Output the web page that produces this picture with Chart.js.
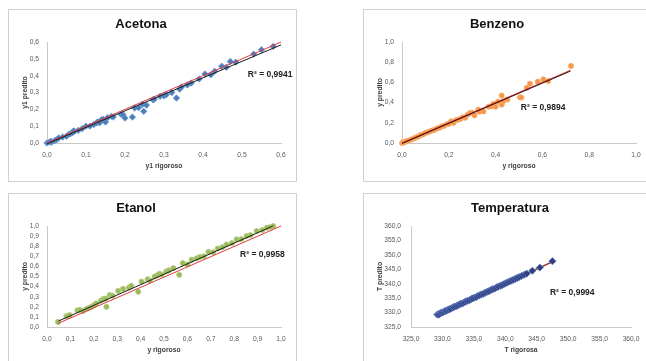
<!DOCTYPE html>
<html>
<head>
<meta charset="utf-8">
<title>Rigoroso x predito</title>
<script src="https://cdn.jsdelivr.net/npm/chart.js@4.4.0/dist/chart.umd.min.js"></script>
<style>
  body { margin: 0; background: #fff; width: 646px; height: 361px; overflow: hidden; position: relative; }
  .panel { position: absolute; border: 1px solid #d0d0d0; width: 287px; height: 171px; background: #fff; }
  .panel canvas { display: block; }
</style>
</head>
<body>
<div class="panel" style="left:8px;top:9px"><canvas id="acetona" width="287" height="171"></canvas></div>
<div class="panel" style="left:363px;top:9px"><canvas id="benzeno" width="287" height="171"></canvas></div>
<div class="panel" style="left:8px;top:193px"><canvas id="etanol" width="287" height="171"></canvas></div>
<div class="panel" style="left:363px;top:193px"><canvas id="temperatura" width="287" height="171"></canvas></div>

<script>
'use strict';

/**
 * data
 */

const acetonaX = [0.0, 0.005, 0.01, 0.012, 0.02, 0.025, 0.03, 0.04, 0.05, 0.055, 0.06, 0.065, 0.067, 0.07, 0.08,
  0.09, 0.1, 0.11, 0.12, 0.127, 0.13, 0.135, 0.14, 0.145, 0.15, 0.155, 0.165, 0.17, 0.19, 0.195, 0.2, 0.219,
  0.225, 0.235, 0.245, 0.248, 0.255, 0.272, 0.275, 0.29, 0.3, 0.306, 0.32, 0.332, 0.34, 0.345, 0.36, 0.37,
  0.39, 0.405, 0.42, 0.43, 0.448, 0.46, 0.47, 0.484, 0.53, 0.55, 0.58];
const acetonaY = [0.0, 0.005, 0.01, 0.005, 0.015, 0.02, 0.03, 0.035, 0.04, 0.05, 0.055, 0.06, 0.07, 0.07, 0.075,
  0.085, 0.1, 0.1, 0.11, 0.119, 0.125, 0.12, 0.139, 0.14, 0.125, 0.15, 0.158, 0.155, 0.17, 0.168, 0.148, 0.154,
  0.208, 0.21, 0.23, 0.188, 0.225, 0.257, 0.26, 0.277, 0.28, 0.287, 0.3, 0.267, 0.32, 0.333, 0.345, 0.356,
  0.38, 0.41, 0.405, 0.426, 0.456, 0.45, 0.484, 0.48, 0.528, 0.554, 0.574];
const acetonaIdeal = [[0, 0], [0.6, 0.6]];
const acetonaTrend = [[0, -0.005], [0.6, 0.583]];

const benzenoX = [0.0, 0.005, 0.01, 0.015, 0.02, 0.03, 0.04, 0.05, 0.06, 0.07, 0.08, 0.09, 0.1, 0.11, 0.12, 0.13,
  0.14, 0.15, 0.16, 0.17, 0.18, 0.19, 0.2, 0.21, 0.22, 0.23, 0.24, 0.25, 0.26, 0.27, 0.28, 0.29, 0.3, 0.31,
  0.326, 0.33, 0.348, 0.37, 0.383, 0.39, 0.4, 0.41, 0.426, 0.426, 0.433, 0.45, 0.504, 0.51, 0.533, 0.547,
  0.58, 0.604, 0.625, 0.722];
const benzenoY = [0.0, 0.01, 0.005, 0.015, 0.02, 0.025, 0.035, 0.045, 0.055, 0.065, 0.08, 0.085, 0.1, 0.105,
  0.115, 0.125, 0.13, 0.145, 0.15, 0.165, 0.17, 0.185, 0.19, 0.215, 0.2, 0.225, 0.23, 0.24, 0.255, 0.25, 0.28,
  0.297, 0.3, 0.273, 0.33, 0.31, 0.313, 0.36, 0.363, 0.387, 0.36, 0.41, 0.47, 0.38, 0.413, 0.43, 0.453, 0.45,
  0.547, 0.587, 0.607, 0.63, 0.613, 0.763];
const benzenoIdeal = [[0, 0], [0.72, 0.72]];
const benzenoTrend = [[0, -0.005], [0.72, 0.712]];

const etanolX = [0.047, 0.083, 0.09, 0.097, 0.13, 0.14, 0.155, 0.17, 0.18, 0.19, 0.2, 0.21, 0.23, 0.24, 0.25,
  0.254, 0.268, 0.28, 0.304, 0.325, 0.35, 0.36, 0.39, 0.404, 0.43, 0.44, 0.46, 0.47, 0.48, 0.49, 0.51, 0.52,
  0.54, 0.565, 0.58, 0.6, 0.618, 0.64, 0.653, 0.67, 0.69, 0.71, 0.73, 0.75, 0.767, 0.79, 0.81, 0.83, 0.853,
  0.87, 0.896, 0.92, 0.94, 0.955, 0.967];
const etanolY = [0.05, 0.107, 0.11, 0.117, 0.165, 0.17, 0.16, 0.18, 0.19, 0.2, 0.215, 0.233, 0.26, 0.277, 0.28,
  0.2, 0.317, 0.31, 0.357, 0.377, 0.39, 0.407, 0.35, 0.45, 0.473, 0.46, 0.5, 0.51, 0.527, 0.52, 0.55, 0.56,
  0.583, 0.517, 0.633, 0.62, 0.667, 0.68, 0.693, 0.7, 0.743, 0.74, 0.777, 0.79, 0.817, 0.83, 0.867, 0.87, 0.9,
  0.91, 0.95, 0.96, 0.983, 0.99, 1.0];
const etanolIdeal = [[0.047, 0.035], [1.0, 1.0]];
const etanolTrend = [[0.05, 0.06], [0.965, 1.0]];

const temperaturaX = [329.2, 329.4, 329.5, 329.7, 329.9, 330.1, 330.3, 330.5, 330.7, 330.9, 331.1, 331.3, 331.6,
  331.8, 332.0, 332.3, 332.5, 332.8, 333.0, 333.3, 333.5, 333.8, 334.0, 334.3, 334.6, 334.8, 335.1, 335.4,
  335.6, 335.9, 336.2, 336.5, 336.8, 337.1, 337.4, 337.7, 338.0, 338.3, 338.6, 338.9, 339.2, 339.5, 339.8,
  340.1, 340.4, 340.7, 341.0, 341.3, 341.6, 341.9, 342.2, 342.6, 343.0, 343.4, 344.3, 345.5, 347.5];
const temperaturaY = [329.3, 329.5, 329.4, 329.8, 330.0, 330.1, 330.4, 330.6, 330.7, 331.0, 331.2, 331.3, 331.7,
  331.9, 332.1, 332.3, 332.6, 332.9, 333.1, 333.3, 333.6, 333.9, 334.1, 334.3, 334.7, 334.9, 335.2, 335.4,
  335.7, 336.0, 336.3, 336.5, 336.9, 337.2, 337.4, 337.8, 338.1, 338.3, 338.7, 339.0, 339.3, 339.5, 339.9,
  340.2, 340.5, 340.8, 341.1, 341.4, 341.7, 342.0, 342.3, 342.7, 343.1, 343.5, 344.5, 345.6, 347.8];
const temperaturaIdeal = [[329.3, 329.3], [347.6, 347.6]];
const temperaturaTrend = [[329.3, 329.4], [347.6, 347.8]];

/**
 * helpers
 */

const FONT = '"Liberation Sans", Arial, sans-serif';

function zip(xs, ys) {
  return xs.map(function (x, i) { return { x: x, y: ys[i] }; });
}

function pairs(list) {
  return list.map(function (p) { return { x: p[0], y: p[1] }; });
}

function comma(v) {
  return v.toFixed(1).replace('.', ',');
}

// titles, axis titles and the R² note
const panelText = {
  id: 'panelText',
  afterDraw(chart, args, opts) {
    const ctx = chart.ctx;
    const a = chart.chartArea;
    ctx.save();
    ctx.textAlign = 'center';
    ctx.textBaseline = 'middle';
    ctx.fillStyle = '#111';
    ctx.font = 'bold 13px ' + FONT;
    ctx.fillText(opts.title, opts.titleX, 14);

    ctx.fillStyle = '#404040';
    ctx.font = 'bold 6.8px ' + FONT;
    ctx.fillText(opts.xTitle, (a.left + a.right) / 2, 156.5);
    ctx.save();
    ctx.translate(16, (a.top + a.bottom) / 2);
    ctx.rotate(-Math.PI / 2);
    ctx.fillText(opts.yTitle, 0, 0);
    ctx.restore();

    ctx.fillStyle = '#222';
    ctx.textAlign = 'left';
    ctx.font = 'bold 8.5px ' + FONT;
    const px = chart.scales.x.getPixelForValue(opts.r2[0]);
    const py = chart.scales.y.getPixelForValue(opts.r2[1]);
    ctx.fillText(opts.r2Text, px, py);
    ctx.restore();
  }
};

function axis(min, max, step, isX, yWidth, pad) {
  return {
    type: 'linear',
    min: min,
    max: max,
    grid: { display: false, drawTicks: false },
    border: { display: true, color: '#c8c8c8', width: 1 },
    ticks: {
      stepSize: step,
      autoSkip: false,
      maxRotation: 0,
      padding: isX ? 8 : pad,
      color: '#595959',
      font: { family: FONT, size: 6.7 },
      callback: function (v) { return comma(v); }
    },
    afterFit: function (scale) {
      if (isX) scale.height = 20;
      else scale.width = yWidth;
    }
  };
}

function makeChart(id, cfg) {
  const ctx = document.getElementById(id).getContext('2d');
  return new Chart(ctx, {
    type: 'scatter',
    data: {
      datasets: [{
        data: cfg.points,
        pointStyle: cfg.pointStyle,
        pointRadius: cfg.radius,
        backgroundColor: cfg.color,
        borderColor: cfg.edge,
        borderWidth: 0.8,
        clip: false,
        order: cfg.pointsOnTop ? -1 : 2
      }, {
        data: cfg.ideal,
        showLine: true,
        pointRadius: 0,
        borderColor: cfg.idealColor,
        borderWidth: 1,
        clip: false,
        order: 1
      }, {
        data: cfg.trend,
        showLine: true,
        pointRadius: 0,
        borderColor: cfg.trendColor,
        borderWidth: 1,
        clip: false,
        order: 0
      }]
    },
    options: {
      responsive: false,
      animation: false,
      layout: { padding: { left: 0, right: cfg.right, top: 32, bottom: 18 } },
      scales: {
        x: axis(cfg.x[0], cfg.x[1], cfg.x[2], true),
        y: axis(cfg.y[0], cfg.y[1], cfg.y[2], false, cfg.yWidth, cfg.yPad)
      },
      plugins: {
        legend: { display: false },
        tooltip: { enabled: false },
        panelText: {
          title: cfg.title,
          titleX: cfg.titleX,
          xTitle: cfg.xTitle,
          yTitle: cfg.yTitle,
          r2: cfg.r2,
          r2Text: cfg.r2Text
        }
      }
    },
    plugins: [panelText]
  });
}

/**
 * the four panels
 */

makeChart('acetona', {
  title: 'Acetona', titleX: 132, xTitle: 'y1 rigoroso', yTitle: 'y1 predito',
  points: zip(acetonaX, acetonaY), ideal: pairs(acetonaIdeal), trend: pairs(acetonaTrend),
  color: '#4a7ebb', edge: '#6b97cf', pointStyle: 'rectRot', radius: 3.2,
  idealColor: '#e0393e', trendColor: '#1a1a1a',
  x: [0, 0.6, 0.1], y: [0, 0.6, 0.1], yWidth: 38, yPad: 8, right: 15,
  r2: [0.515, 0.404], r2Text: 'R² = 0,9941'
});

makeChart('benzeno', {
  title: 'Benzeno', titleX: 133, xTitle: 'y rigoroso', yTitle: 'y predito',
  points: zip(benzenoX, benzenoY), ideal: pairs(benzenoIdeal), trend: pairs(benzenoTrend),
  color: '#f79646', edge: '#f9ad72', pointStyle: 'circle', radius: 2.6,
  idealColor: '#c0282d', trendColor: '#3a1010',
  x: [0, 1, 0.2], y: [0, 1, 0.2], yWidth: 38, yPad: 8, right: 15,
  r2: [0.508, 0.35], r2Text: 'R² = 0,9894'
});

makeChart('etanol', {
  title: 'Etanol', titleX: 127, xTitle: 'y rigoroso', yTitle: 'y predito',
  points: zip(etanolX, etanolY), ideal: pairs(etanolIdeal), trend: pairs(etanolTrend),
  color: '#9bbb59', edge: '#b3cc80', pointStyle: 'circle', radius: 2.6,
  idealColor: '#e0393e', trendColor: '#1a1a1a',
  x: [0, 1, 0.1], y: [0, 1, 0.1], yWidth: 38, yPad: 8, right: 15,
  r2: [0.825, 0.72], r2Text: 'R² = 0,9958'
});

makeChart('temperatura', {
  title: 'Temperatura', titleX: 146, xTitle: 'T rigorosa', yTitle: 'T predito',
  points: zip(temperaturaX, temperaturaY), ideal: pairs(temperaturaIdeal), trend: pairs(temperaturaTrend),
  color: '#2f3f80', edge: '#5a78c0', pointStyle: 'rectRot', radius: 3.6, pointsOnTop: true,
  idealColor: '#c0282d', trendColor: '#7a3030',
  x: [325, 360, 5], y: [325, 360, 5], yWidth: 47, yPad: 10, right: 20,
  r2: [347.1, 336.9], r2Text: 'R² = 0,9994'
});
</script>
</body>
</html>
